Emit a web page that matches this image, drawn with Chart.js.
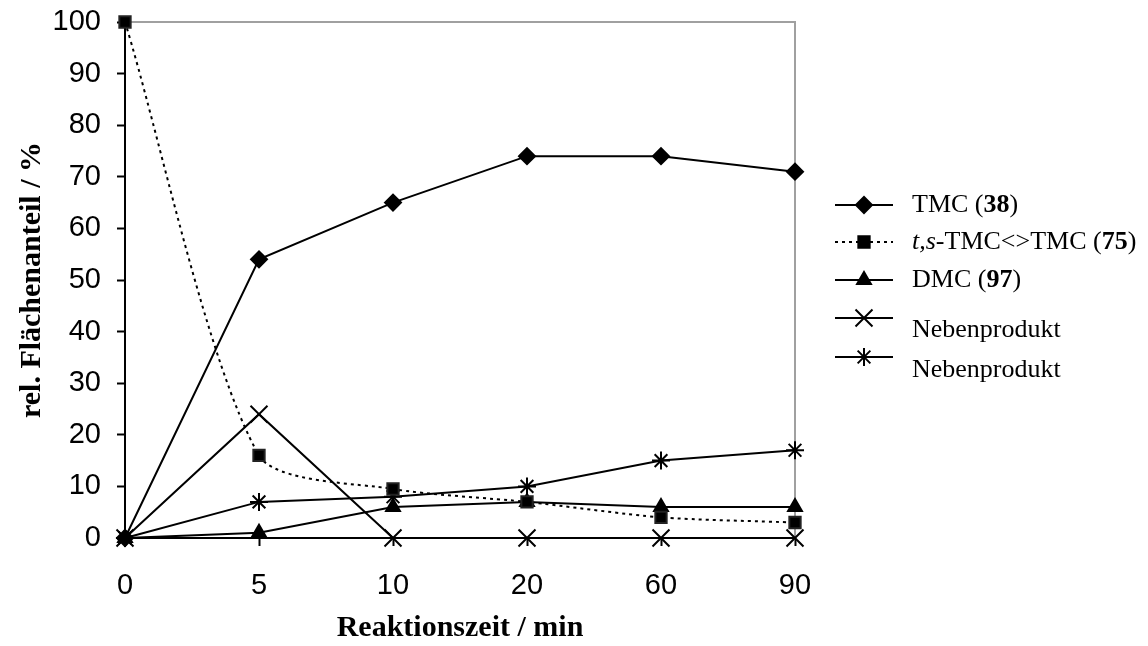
<!DOCTYPE html>
<html>
	<head>
		<title>Reaktionsverlauf</title>
		<meta http-equiv="Content-Type" content="text/html; charset=UTF-8" />
		<script src="https://cdn.jsdelivr.net/npm/chart.js@4/dist/chart.umd.min.js"></script>
		<style>
			html, body { margin: 0; padding: 0; background: #fff; }
			#wrap { width: 1148px; height: 646px; }
		</style>
	</head>
	<body>
		<div id="wrap"><canvas id="myChart" width="1148" height="646"></canvas></div>

		<script>
			// x categories (Reaktionszeit / min)
			var categories = ['0', '5', '10', '20', '60', '90'];

			// series values, rel. Flächenanteil / %
			var tmc = [0, 54, 65, 74, 74, 71];
			var tsTmc = [100, 16, 9.5, 7, 4, 3];
			var dmc = [0, 1, 6, 7, 6, 6];
			var nebenKreuz = [0, 24, 0, 0, 0, 0];
			var nebenStern = [0, 7, 8, 10, 15, 17];

			// legend texts, split into runs: [text, style]
			var legendTexts = [
				[['TMC (', ''], ['38', 'bold'], [')', '']],
				[['t,s', 'italic'], ['-TMC<>TMC (', ''], ['75', 'bold'], [')', '']],
				[['DMC (', ''], ['97', 'bold'], [')', '']],
				[['Nebenprodukt', '']],
				[['Nebenprodukt', '']]
			];

			var serif = '"Liberation Serif", "Times New Roman", serif';
			var sans = '"Liberation Sans", Arial, sans-serif';

			// gray frame on top and right side of the plot area, like excel
			var frame = {
				id: 'frame',
				beforeDatasetsDraw: function(chart) {
					var a = chart.chartArea, c = chart.ctx;
					c.save();
					c.strokeStyle = '#a0a0a0';
					c.lineWidth = 2;
					c.beginPath();
					c.moveTo(a.left, a.top);
					c.lineTo(a.right, a.top);
					c.lineTo(a.right, a.bottom);
					c.stroke();
					c.restore();
				}
			};

			// legend with line + marker and mixed fonts
			var legend = {
				id: 'customLegend',
				afterDraw: function(chart) {
					var c = chart.ctx;
					var markerY = [205, 242, 280, 318, 357];
					var textY = [205, 242, 280, 330, 370];
					c.save();
					chart.data.datasets.forEach(function(ds, i) {
						var y = markerY[i];
						c.strokeStyle = '#000';
						c.lineWidth = ds.borderWidth;
						c.setLineDash(ds.borderDash || []);
						c.beginPath();
						c.moveTo(835, y);
						c.lineTo(893, y);
						c.stroke();
						c.setLineDash([]);
						c.fillStyle = '#000';
						c.lineWidth = ds.pointBorderWidth;
						Chart.helpers.drawPoint(c, {
							pointStyle: ds.pointStyle,
							radius: ds.pointRadius,
							rotation: 0,
							borderWidth: ds.pointBorderWidth
						}, 864, y);

						var x = 912;
						c.textBaseline = 'middle';
						c.textAlign = 'left';
						legendTexts[i].forEach(function(run) {
							c.font = (run[1] ? run[1] + ' ' : '') + '26px ' + serif;
							c.fillText(run[0], x, textY[i]);
							x += c.measureText(run[0]).width;
						});
					});
					c.restore();
				}
			};

			function serie(label, data, style, radius, extra) {
				var ds = {
					label: label,
					data: data,
					borderColor: '#000',
					backgroundColor: '#000',
					borderWidth: 2,
					pointStyle: style,
					pointRadius: radius,
					pointHoverRadius: radius,
					pointBorderWidth: 2,
					pointBorderColor: '#000',
					pointBackgroundColor: '#000',
					tension: 0,
					clip: false
				};
				for (var k in extra) ds[k] = extra[k];
				return ds;
			}

			var ctx = document.getElementById('myChart').getContext('2d');

			var chart = new Chart(ctx, {
				type: 'line',
				data: {
					labels: categories,
					datasets: [
						serie('TMC (38)', tmc, 'rectRot', 8),
						serie('t,s-TMC<>TMC (75)', tsTmc, 'rect', 8, {
							borderDash: [3, 4],
							tension: 0.25,
							pointBorderColor: '#222'
						}),
						serie('DMC (97)', dmc, 'triangle', 8),
						serie('Nebenprodukt', nebenKreuz, 'crossRot', 12),
						serie('Nebenprodukt', nebenStern, 'star', 9)
					]
				},
				plugins: [frame, legend],
				options: {
					responsive: false,
					animation: false,
					events: [],
					layout: {
						padding: { left: 0, top: 22, right: 353, bottom: 0 }
					},
					plugins: {
						legend: { display: false },
						tooltip: { enabled: false }
					},
					scales: {
						x: {
							type: 'category',
							offset: false,
							afterFit: function(s) {
								s.height = 108;
								s.paddingLeft = 0;
								s.paddingRight = 0;
							},
							grid: {
								drawOnChartArea: false,
								drawTicks: true,
								tickLength: 8,
								tickWidth: 2,
								tickColor: '#000'
							},
							border: { color: '#000', width: 2 },
							ticks: {
								color: '#000',
								padding: 23,
								maxRotation: 0,
								font: { family: sans, size: 29 }
							},
							title: {
								display: true,
								text: 'Reaktionszeit / min',
								color: '#000',
								padding: { top: 0, bottom: 0 },
								font: { family: serif, size: 30, weight: 'bold' }
							}
						},
						y: {
							min: 0,
							max: 100,
							afterFit: function(s) {
								s.width = 125;
								s.paddingTop = 0;
								s.paddingBottom = 0;
							},
							grid: {
								drawOnChartArea: false,
								drawTicks: true,
								tickLength: 8,
								tickWidth: 2,
								tickColor: '#000'
							},
							border: { color: '#000', width: 2 },
							ticks: {
								stepSize: 10,
								color: '#000',
								padding: 16,
								font: { family: sans, size: 29 }
							},
							title: {
								display: true,
								text: 'rel. Flächenanteil / %',
								color: '#000',
								padding: { top: 14, bottom: 0 },
								font: { family: serif, size: 30, weight: 'bold' }
							}
						}
					}
				}
			});
		</script>
	</body>
</html>
